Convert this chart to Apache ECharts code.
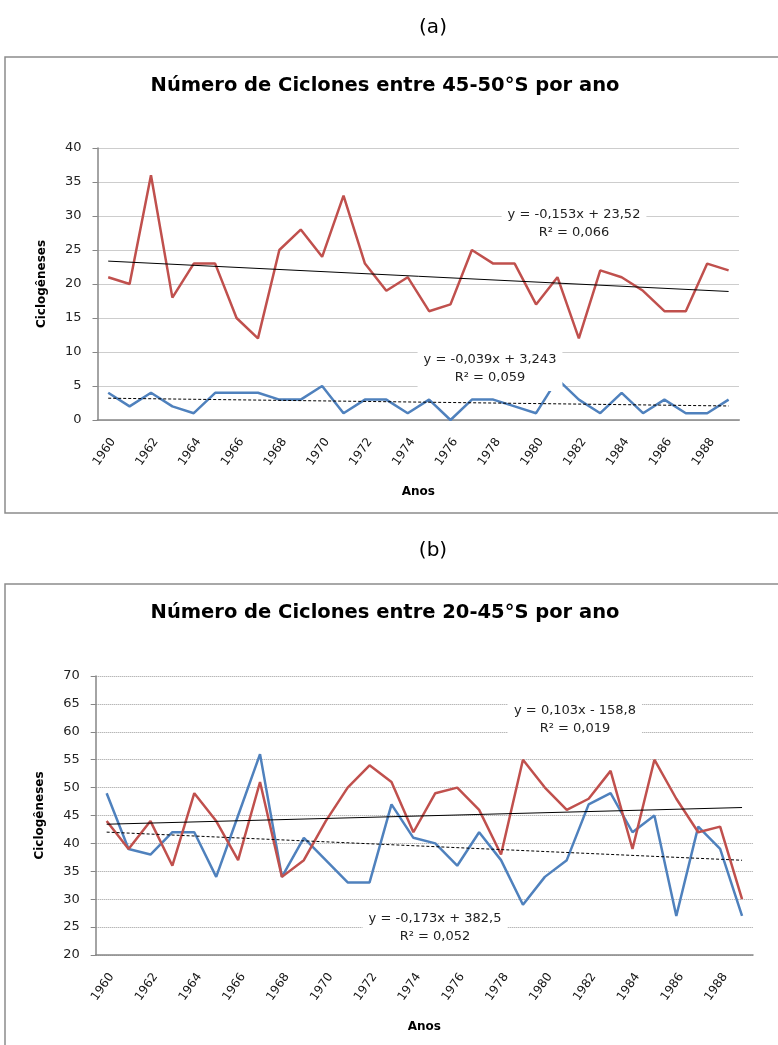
<!DOCTYPE html>
<html>
<head>
<meta charset="utf-8">
<title>Ciclogêneses por ano</title>
<script src="https://cdn.jsdelivr.net/npm/echarts@6/dist/echarts.min.js"></script>
<style>
  html, body { margin: 0; padding: 0; background: #fff; }
  #chart { width: 778px; height: 1045px; }
</style>
</head>
<body>
<div id="chart"></div>
<script>
// anos (categorias)
const years = ['1960', '1961', '1962', '1963', '1964', '1965', '1966', '1967', '1968', '1969',
  '1970', '1971', '1972', '1973', '1974', '1975', '1976', '1977', '1978', '1979',
  '1980', '1981', '1982', '1983', '1984', '1985', '1986', '1987', '1988', '1989'];

// (a) 45-50°S
const redA = [21, 20, 36, 18, 23, 23, 15, 12, 25, 28, 24, 33, 23, 19, 21, 16, 17, 25, 23, 23,
  17, 21, 12, 22, 21, 19, 16, 16, 23, 22];
const blueA = [4, 2, 4, 2, 1, 4, 4, 4, 3, 3, 5, 1, 3, 3, 1, 3, 0, 3, 3, 2,
  1, 6, 3, 1, 4, 1, 3, 1, 1, 3];

// (b) 20-45°S
const redB = [44, 39, 44, 36, 49, 44, 37, 51, 34, 37, 44, 50, 54, 51, 42, 49, 50, 46, 38, 55,
  50, 46, 48, 53, 39, 55, 48, 42, 43, 30];
const blueB = [49, 39, 38, 42, 42, 34, 45, 56, 34, 41, 37, 33, 33, 47, 41, 40, 36, 42, 37, 29,
  34, 37, 47, 49, 42, 45, 27, 43, 39, 27];

// textos das linhas de tendência
const eqRedA = ['y = -0,153x + 23,52', 'R² = 0,066'];
const eqBlueA = ['y = -0,039x + 3,243', 'R² = 0,059'];
const eqRedB = ['y = 0,103x - 158,8', 'R² = 0,019'];
const eqBlueB = ['y = -0,173x + 382,5', 'R² = 0,052'];

const FONT = 'DejaVu Sans';
const RED = '#C0504D';
const BLUE = '#4F81BD';

// linha de tendência linear (mínimos quadrados, como no Excel)
function trend(vals) {
  const n = vals.length;
  let sx = 0, sy = 0, sxy = 0, sxx = 0;
  vals.forEach(function (v, i) { sx += i; sy += v; sxy += i * v; sxx += i * i; });
  const b = (n * sxy - sx * sy) / (n * sxx - sx * sx);
  const a = (sy - b * sx) / n;
  return [[{ coord: [0, a] }, { coord: [n - 1, a + b * (n - 1)] }]];
}

function xAxis(idx) {
  return {
    type: 'category', gridIndex: idx, data: years, boundaryGap: true,
    name: 'Anos', nameLocation: 'middle', nameGap: 66,
    nameTextStyle: { fontWeight: 'bold', fontSize: 12, color: '#000', fontFamily: FONT },
    axisLine: { lineStyle: { color: '#868686', width: 1.5 } },
    axisTick: { interval: 1, length: 5, lineStyle: { color: '#868686' } },
    axisLabel: { interval: 1, rotate: 55, margin: 16, fontSize: 12, color: '#111',
      fontFamily: FONT, verticalAlign: 'top' },
    splitLine: { show: false }
  };
}

function yAxis(idx, min, max) {
  return {
    type: 'value', gridIndex: idx, min: min, max: max, interval: 5,
    name: 'Ciclogêneses', nameLocation: 'middle', nameGap: 50,
    nameTextStyle: { fontWeight: 'bold', fontSize: 12, color: '#000', fontFamily: FONT },
    axisLine: { show: true, lineStyle: { color: '#868686', width: 1.5 } },
    axisTick: { show: true, length: 5, lineStyle: { color: '#868686' } },
    axisLabel: { margin: 16, fontSize: 13, color: '#222', fontFamily: FONT },
    splitLine: { lineStyle: { type: 'dotted', color: '#9a9a9a', width: 1 } }
  };
}

function lineSeries(idx, data, color, dashed) {
  return {
    type: 'line', xAxisIndex: idx, yAxisIndex: idx, data: data,
    symbol: 'none', color: color,
    lineStyle: { width: 2.5, color: color },
    markLine: {
      silent: true, symbol: ['none', 'none'], label: { show: false },
      lineStyle: { color: '#000', width: 1, type: dashed ? [3, 2] : 'solid' },
      data: trend(data)
    }
  };
}

function eqText(lines, x, y) {
  return {
    type: 'text', x: x, y: y, z: 100, silent: true,
    style: {
      text: lines.join('\n'), fill: '#222', font: '13px "' + FONT + '"',
      align: 'center', verticalAlign: 'middle', lineHeight: 18,
      backgroundColor: '#fff', padding: [4, 6]
    }
  };
}

function frame(x, y, w, h) {
  return {
    type: 'rect', silent: true, z: 0,
    shape: { x: x, y: y, width: w, height: h },
    style: { fill: 'none', stroke: '#8c8c8c', lineWidth: 1.5 }
  };
}

const chart = echarts.init(document.getElementById('chart'), null, { renderer: 'canvas' });

const option = {
  animation: false,
  backgroundColor: '#fff',
  textStyle: { fontFamily: FONT },
  title: [
    { text: '(a)', left: 433, top: 18, textAlign: 'center', padding: 0,
      textStyle: { fontSize: 20, fontWeight: 'normal', color: '#000', fontFamily: FONT } },
    { text: 'Número de Ciclones entre 45-50°S por ano', left: 385, top: 76, textAlign: 'center', padding: 0,
      textStyle: { fontSize: 19.5, fontWeight: 'bold', color: '#000', fontFamily: FONT } },
    { text: '(b)', left: 433, top: 541, textAlign: 'center', padding: 0,
      textStyle: { fontSize: 20, fontWeight: 'normal', color: '#000', fontFamily: FONT } },
    { text: 'Número de Ciclones entre 20-45°S por ano', left: 385, top: 603, textAlign: 'center', padding: 0,
      textStyle: { fontSize: 19.5, fontWeight: 'bold', color: '#000', fontFamily: FONT } }
  ],
  grid: [
    { left: 97.5, top: 148, width: 641.8, height: 272 },
    { left: 95.7, top: 676, width: 657.3, height: 279 }
  ],
  xAxis: [xAxis(0), xAxis(1)],
  yAxis: [yAxis(0, 0, 40), yAxis(1, 20, 70)],
  series: [
    lineSeries(0, blueA, BLUE, true),
    lineSeries(0, redA, RED, false),
    lineSeries(1, blueB, BLUE, true),
    lineSeries(1, redB, RED, false)
  ],
  graphic: [
    frame(5, 57, 800, 456),
    frame(5, 584, 800, 500),
    eqText(eqRedA, 574, 224),
    eqText(eqBlueA, 490, 369),
    eqText(eqRedB, 575, 720),
    eqText(eqBlueB, 435, 927.5)
  ]
};

chart.setOption(option);
</script>
</body>
</html>
